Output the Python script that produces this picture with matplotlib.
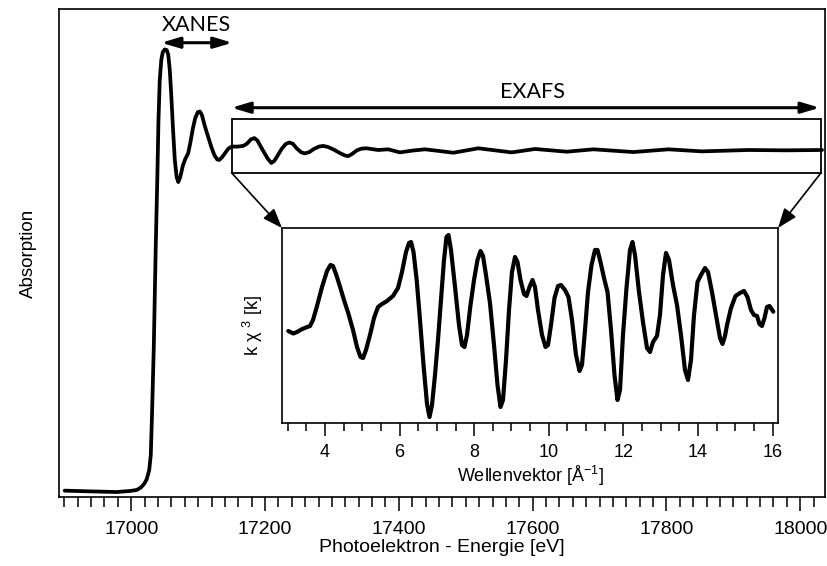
import numpy as np
import matplotlib
matplotlib.use("Agg")
import matplotlib.pyplot as plt
from matplotlib.patches import Rectangle
from matplotlib.ticker import MultipleLocator

# main spectrum: photon energy [eV] vs normalised absorption
energy = [16900.5, 16937.9, 16977.9, 16997.8, 17008.2, 17014.2, 17019.4, 17023.2,
          17026.9, 17029.2, 17031.1, 17033.7, 17036.6, 17038.9, 17040.7, 17042.6,
          17044.9, 17047.1, 17050.1, 17053.1, 17055.3, 17057.6, 17059.8, 17062.5,
          17065.1, 17067.8, 17070.3, 17073.3, 17077.0, 17080.8, 17085.0, 17088.3,
          17092.0, 17095.7, 17099.5, 17102.5, 17105.5, 17110.0, 17114.9, 17119.7,
          17124.2, 17128.6, 17131.6, 17135.4, 17139.9, 17145.1, 17150.3, 17159.3,
          17167.2, 17172.7, 17178.8, 17184.0, 17188.5, 17193.0, 17198.2, 17204.2,
          17209.4, 17213.9, 17219.2, 17225.1, 17231.1, 17236.4, 17241.7, 17247.6,
          17254.3, 17259.5, 17266.3, 17273.0, 17280.5, 17286.9, 17293.9, 17302.9,
          17311.9, 17319.4, 17324.3, 17329.8, 17337.3, 17344.1, 17351.8, 17369.2,
          17384.1, 17401.6, 17419.1, 17439.0, 17456.5, 17481.4, 17518.8, 17568.7,
          17603.6, 17651.0, 17690.8, 17750.6, 17803.0, 17852.9, 17922.7, 17977.6,
          18032.5]
absorption = [0.001, -0.001, -0.003, 0.000, 0.003, 0.010, 0.021, 0.035,
              0.062, 0.106, 0.229, 0.423, 0.716, 0.912, 1.088, 1.205,
              1.264, 1.287, 1.295, 1.293, 1.279, 1.235, 1.161, 1.059,
              0.971, 0.921, 0.906, 0.921, 0.953, 0.974, 0.990, 1.021,
              1.062, 1.094, 1.111, 1.113, 1.103, 1.070, 1.039, 1.009,
              0.985, 0.972, 0.971, 0.978, 0.990, 1.004, 1.010, 1.010,
              1.012, 1.018, 1.031, 1.035, 1.028, 1.012, 0.994, 0.974,
              0.962, 0.968, 0.985, 1.004, 1.018, 1.022, 1.018, 1.004,
              0.993, 0.990, 0.994, 1.003, 1.010, 1.012, 1.009, 1.001,
              0.991, 0.984, 0.982, 0.988, 0.999, 1.004, 1.005, 1.000,
              1.002, 0.993, 0.998, 1.002, 0.998, 0.992, 1.005, 0.993,
              1.003, 0.995, 1.002, 0.994, 1.002, 0.996, 1.000, 0.999,
              1.000]

# inset: k^3-weighted EXAFS oscillations
k = [3.016, 3.150, 3.249, 3.375, 3.491, 3.598, 3.678, 3.786, 3.920, 4.054,
     4.147, 4.214, 4.295, 4.402, 4.509, 4.625, 4.751, 4.858, 4.952, 5.019,
     5.099, 5.206, 5.314, 5.421, 5.528, 5.662, 5.823, 5.957, 6.064, 6.172,
     6.252, 6.306, 6.373, 6.458, 6.547, 6.641, 6.735, 6.802, 6.869, 6.949,
     7.029, 7.110, 7.190, 7.257, 7.311, 7.378, 7.485, 7.592, 7.673, 7.740,
     7.807, 7.901, 7.995, 8.088, 8.169, 8.236, 8.316, 8.424, 8.531, 8.625,
     8.705, 8.772, 8.853, 8.933, 9.013, 9.094, 9.161, 9.241, 9.335, 9.402,
     9.483, 9.563, 9.630, 9.710, 9.818, 9.912, 9.979, 10.059, 10.153, 10.247,
     10.327, 10.434, 10.528, 10.622, 10.729, 10.823, 10.890, 10.971, 11.051, 11.145,
     11.239, 11.306, 11.386, 11.480, 11.574, 11.668, 11.761, 11.842, 11.909, 11.989,
     12.083, 12.177, 12.244, 12.311, 12.418, 12.525, 12.633, 12.713, 12.794, 12.901,
     12.981, 13.062, 13.142, 13.223, 13.330, 13.437, 13.544, 13.651, 13.732, 13.812,
     13.893, 13.987, 14.080, 14.188, 14.268, 14.375, 14.483, 14.590, 14.657, 14.724,
     14.778, 14.885, 15.006, 15.126, 15.233, 15.327, 15.421, 15.501, 15.582, 15.649,
     15.716, 15.783, 15.850, 15.917, 16.019]
chi_k3 = [-0.01, -0.035, -0.02, 0.007, 0.025, 0.04, 0.10, 0.24, 0.43, 0.59,
          0.65, 0.64, 0.56, 0.433, 0.30, 0.167, 0.0, -0.17, -0.27, -0.28,
          -0.20, -0.05, 0.12, 0.23, 0.26, 0.29, 0.34, 0.42, 0.58, 0.78,
          0.87, 0.88, 0.78, 0.50, 0.10, -0.35, -0.74, -0.87, -0.75, -0.45,
          -0.10, 0.30, 0.70, 0.93, 0.95, 0.80, 0.433, 0.05, -0.15, -0.17,
          -0.05, 0.25, 0.50, 0.70, 0.79, 0.74, 0.55, 0.267, -0.15, -0.55,
          -0.77, -0.70, -0.30, 0.20, 0.58, 0.73, 0.68, 0.50, 0.36, 0.34,
          0.43, 0.50, 0.43, 0.20, -0.05, -0.17, -0.15, 0.05, 0.32, 0.44,
          0.45, 0.40, 0.33, 0.10, -0.25, -0.41, -0.35, 0.00, 0.38, 0.65,
          0.80, 0.80, 0.68, 0.52, 0.38, 0.0, -0.45, -0.70, -0.60, -0.05,
          0.42, 0.80, 0.88, 0.75, 0.38, 0.08, -0.18, -0.22, -0.12, -0.06,
          0.15, 0.55, 0.77, 0.70, 0.45, 0.25, -0.05, -0.40, -0.50, -0.30,
          0.15, 0.48, 0.55, 0.62, 0.58, 0.38, 0.15, -0.08, -0.14, -0.06,
          0.05, 0.22, 0.34, 0.37, 0.39, 0.33, 0.20, 0.15, 0.14, 0.06,
          0.04, 0.12, 0.23, 0.24, 0.183]

xanes_range = (17045, 17151)
exafs_range = (17150, 18031)
exafs_box_y = (0.933, 1.091)

plt.rcParams['font.family'] = ['Liberation Sans', 'DejaVu Sans']
plt.rcParams['mathtext.fontset'] = 'custom'
plt.rcParams['mathtext.rm'] = 'Liberation Sans'
plt.rcParams['mathtext.it'] = 'Liberation Sans:italic'

W, H = 827, 566
fig = plt.figure(figsize=(W / 100, H / 100), dpi=100)
ax = fig.add_axes([59 / W, 69 / H, 766 / W, 488 / H])
ax.plot(energy, absorption, color='black', lw=2.7,
        solid_joinstyle='round', solid_capstyle='round')
ax.set_xlim(16892, 18037)
ax.set_ylim(-0.0176, 1.4135)
ax.set_yticks([])
ax.xaxis.set_major_locator(MultipleLocator(200))
ax.xaxis.set_minor_locator(MultipleLocator(20))
ax.tick_params(axis='x', which='major', direction='out', length=10, width=1.1,
               labelsize=14, pad=7)
ax.tick_params(axis='x', which='minor', direction='out', length=7, width=1.1)
for s in ax.spines.values():
    s.set_linewidth(1.2)
ax.set_xlabel('Photoelektron - Energie [eV]', fontsize=14, labelpad=1)
ax.set_ylabel('Absorption', fontsize=13.5, labelpad=16)

# EXAFS region box
ax.add_patch(Rectangle((exafs_range[0], exafs_box_y[0]),
                       exafs_range[1] - exafs_range[0],
                       exafs_box_y[1] - exafs_box_y[0],
                       fill=False, lw=1.3, ec='black'))

dbl = dict(arrowstyle='<|-|>,head_length=1.1,head_width=0.33', lw=2.2,
           color='black', mutation_scale=10, shrinkA=0, shrinkB=0)
ax.annotate('', xy=(xanes_range[0], 1.3146), xytext=(xanes_range[1], 1.3146),
            arrowprops=dbl)
ax.annotate('', xy=(exafs_range[0], 1.124), xytext=(exafs_range[1] - 2, 1.124),
            arrowprops=dbl)
ax.text(sum(xanes_range) / 2, 1.366, 'XANES', ha='center', va='center',
        fontsize=15.5, family='Lato')
ax.text(17600, 1.17, 'EXAFS', ha='center', va='center',
        fontsize=15.5, family='Lato')

# inset
axins = fig.add_axes([282 / W, 143 / H, 496 / W, 195 / H])
axins.plot(k, chi_k3, color='black', lw=3,
           solid_joinstyle='round', solid_capstyle='round')
axins.set_xlim(2.847, 16.145)
axins.set_ylim(-0.93, 1.02)
axins.set_yticks([])
axins.xaxis.set_major_locator(MultipleLocator(2))
axins.xaxis.set_minor_locator(MultipleLocator(0.5))
axins.tick_params(axis='x', which='major', direction='out', length=9, width=1.1,
                  labelsize=13, pad=6)
axins.tick_params(axis='x', which='minor', direction='out', length=6, width=1.1)
for s in axins.spines.values():
    s.set_linewidth(1.2)
axins.set_xlabel('Wellenvektor [Å$^{-1}$]', fontsize=13, labelpad=2)
axins.set_ylabel('k χ $^{3}$ [k]', fontsize=13, labelpad=12)

conn = dict(arrowstyle='-|>,head_length=1.2,head_width=0.45', lw=1.2,
            color='black', mutation_scale=10, shrinkA=0, shrinkB=0)
ax.annotate('', xy=(0, 1), xycoords=axins.transAxes,
            xytext=(exafs_range[0], exafs_box_y[0]), textcoords='data',
            arrowprops=conn)
ax.annotate('', xy=(1, 1), xycoords=axins.transAxes,
            xytext=(exafs_range[1], exafs_box_y[0]), textcoords='data',
            arrowprops=conn)

fig.savefig('out.png', dpi=100)
